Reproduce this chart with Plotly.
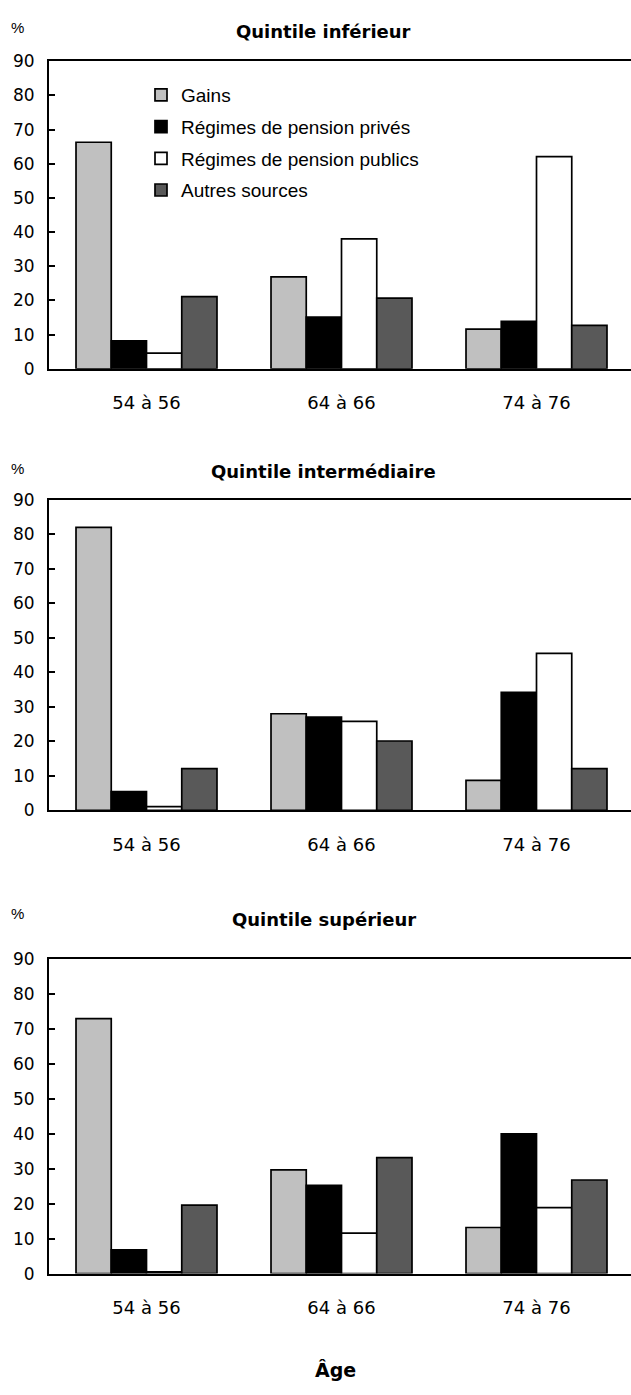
import plotly.graph_objects as go

# ---------------- data ----------------
categories = ["54 à 56", "64 à 66", "74 à 76"]
series_names = ["Gains", "Régimes de pension privés",
                "Régimes de pension publics", "Autres sources"]
panel_titles = ["Quintile inférieur", "Quintile intermédiaire", "Quintile supérieur"]
y_ticks = [0, 10, 20, 30, 40, 50, 60, 70, 80, 90]
x_title = "Âge"
unit_label = "%"

bottom_gains = [66.3, 26.9, 11.6]
bottom_private = [8.2, 15.1, 13.9]
bottom_public = [4.6, 38.0, 62.1]
bottom_other = [21.1, 20.7, 12.7]

middle_gains = [82.0, 28.0, 8.7]
middle_private = [5.4, 27.0, 34.2]
middle_public = [1.1, 25.8, 45.5]
middle_other = [12.1, 20.1, 12.1]

top_gains = [73.0, 29.7, 13.2]
top_private = [6.8, 25.3, 40.0]
top_public = [0.5, 11.6, 18.9]
top_other = [19.6, 33.2, 26.8]

panels = [
    [bottom_gains, bottom_private, bottom_public, bottom_other],
    [middle_gains, middle_private, middle_public, middle_other],
    [top_gains, top_private, top_public, top_other],
]

# ---------------- style ----------------
W, H = 631, 1395
colors = ["#c0c0c0", "#000000", "#ffffff", "#595959"]
tick_font = dict(family="DejaVu Sans", size=17, color="#000000")
cat_font = dict(family="DejaVu Sans", size=18, color="#000000")
title_font = dict(family="DejaVu Sans", size=18, color="#000000")
legend_font = dict(family="Liberation Sans", size=19, color="#000000")

# panel plot areas in pixels (top, bottom)
panel_px = [(52, 364), (497, 812), (963, 1282)]
unit_px = [18, 465, 917]
title_px = [22, 468, 923]
x_left_px = 49
group_px = 195.0

def py(px):
    return 1 - px / H

fig = go.Figure()
for p, series in enumerate(panels):
    sfx = "" if p == 0 else str(p + 1)
    for s, vals in enumerate(series):
        fig.add_trace(go.Bar(
            x=categories, y=vals, name=series_names[s],
            marker=dict(color=colors[s], line=dict(color="#000000", width=1.7)),
            xaxis="x" + sfx, yaxis="y" + sfx,
            showlegend=(p == 0), legendgroup="g%d" % s,
            hoverinfo="skip",
        ))
    top, bot = panel_px[p]
    xa = dict(
        domain=[x_left_px / W, 1], anchor="y" + sfx,
        type="category", range=[-0.5, -0.5 + (W - x_left_px) / group_px],
        showline=True, linecolor="#000000", linewidth=2, mirror=True,
        ticks="", showgrid=False, zeroline=False,
        tickfont=cat_font, ticklabelstandoff=17, fixedrange=True,
    )
    ya = dict(
        domain=[py(bot), py(top)], anchor="x" + sfx,
        range=[0, 90], tickvals=y_ticks, ticktext=[str(v) for v in y_ticks],
        showline=True, linecolor="#000000", linewidth=2, mirror=False,
        ticks="inside", ticklen=6, tickwidth=1.5, tickcolor="#000000",
        showgrid=False, zeroline=False, tickfont=tick_font,
        ticklabelstandoff=9, fixedrange=True,
    )
    fig.layout["xaxis" + sfx] = xa
    fig.layout["yaxis" + sfx] = ya
    fig.add_annotation(text="<b>%s</b>" % panel_titles[p], xref="paper", yref="paper",
                       x=324 / W, y=py(title_px[p]), xanchor="center", yanchor="middle",
                       showarrow=False, font=title_font)
    fig.add_annotation(text=unit_label, xref="paper", yref="paper",
                       x=17 / W, y=py(unit_px[p]), xanchor="center", yanchor="middle",
                       showarrow=False, font=dict(family="Liberation Sans", size=15, color="#000"))

fig.add_annotation(text="<b>%s</b>" % x_title, xref="paper", yref="paper",
                   x=335 / W, y=py(1380), xanchor="center", yanchor="middle",
                   showarrow=False, font=dict(family="DejaVu Sans", size=19, color="#000"))

fig.update_layout(
    width=W, height=H, autosize=False,
    margin=dict(l=0, r=0, t=0, b=0),
    paper_bgcolor="#ffffff", plot_bgcolor="#ffffff",
    barmode="group", bargap=0.277, bargroupgap=0,
    legend=dict(x=141 / W, y=py(67), xanchor="left", yanchor="top",
                font=legend_font, bgcolor="rgba(0,0,0,0)",
                tracegroupgap=4, traceorder="grouped",
                itemclick=False, itemdoubleclick=False),
    showlegend=True,
)

fig.write_html("out.html", config={"displayModeBar": False},
               post_script="document.body.style.margin='0';")
